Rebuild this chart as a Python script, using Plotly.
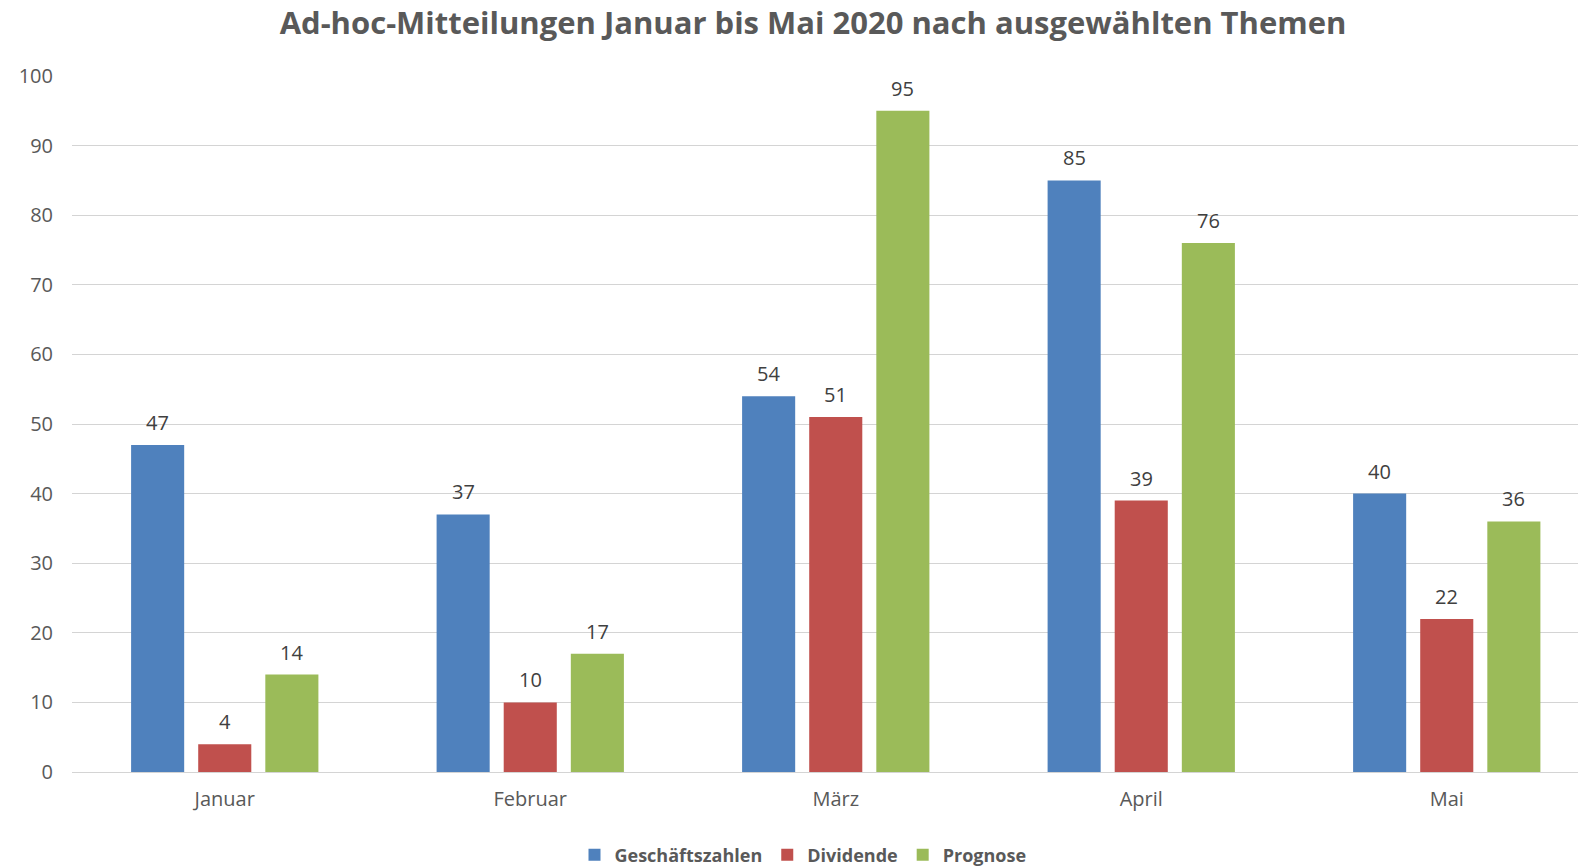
import plotly.graph_objects as go

categories = ["Januar", "Februar", "März", "April", "Mai"]
series_names = ["Geschäftszahlen", "Dividende", "Prognose"]
geschaeftszahlen = [47, 37, 54, 85, 40]
dividende = [4, 10, 51, 39, 22]
prognose = [14, 17, 95, 76, 36]
colors = ["#4F81BD", "#C0504D", "#9BBB59"]
y_ticks = [0, 10, 20, 30, 40, 50, 60, 70, 80, 90, 100]

series_values = [geschaeftszahlen, dividende, prognose]

W, H = 1578, 867
FONT = "Open Sans"
BARGAP = 0.341
BARGROUPGAP = 0.209
n_series = len(series_values)
slot = (1 - BARGAP) / n_series

L, T, B = 72, 76, 95
plot_w = W - L
cat_px = 305.5

x_idx = list(range(len(categories)))

fig = go.Figure()
for name, vals, col in zip(series_names, series_values, colors):
    fig.add_trace(go.Bar(
        x=x_idx, y=vals, name=name,
        marker=dict(color=col, line=dict(width=0)),
        hoverinfo="y",
    ))

annotations = []
for k, vals in enumerate(series_values):
    off = (k - (n_series - 1) / 2) * slot
    for i, v in enumerate(vals):
        annotations.append(dict(
            x=i + off, y=v, xref="x", yref="y",
            text=str(v), showarrow=False,
            yanchor="bottom", xanchor="center", yshift=7,
            font=dict(family=FONT, size=20, color="#404040"),
        ))

fig.update_layout(
    width=W, height=H,
    margin=dict(l=L, r=0, t=T, b=B, pad=0, autoexpand=False),
    paper_bgcolor="white", plot_bgcolor="white",
    barmode="group", bargap=BARGAP, bargroupgap=BARGROUPGAP,
    title=dict(
        text="<b>Ad-hoc-Mitteilungen Januar bis Mai 2020 nach ausgewählten Themen</b>",
        font=dict(family=FONT, size=31, color="#595959"),
        x=813 / W, xref="container", xanchor="center",
        y=1 - 23 / H, yref="container", yanchor="middle",
    ),
    legend=dict(
        orientation="h", xanchor="center", yanchor="middle",
        x=(803 - L) / plot_w, y=((H - B) - 855) / (H - B - T),
        font=dict(family=FONT, size=18, color="#595959", weight="bold"),
        itemwidth=30, traceorder="normal",
    ),
    xaxis=dict(
        tickmode="array", tickvals=x_idx, ticktext=categories,
        range=[-0.5, -0.5 + plot_w / cat_px],
        showgrid=False, zeroline=False, showline=False,
        ticks="", ticklabelstandoff=13,
        tickfont=dict(family=FONT, size=20, color="#595959"),
    ),
    yaxis=dict(
        range=[0, 100], tickmode="array", tickvals=y_ticks,
        showgrid=True, gridcolor="#D4D4D4", gridwidth=1,
        zeroline=True, zerolinecolor="#D4D4D4", zerolinewidth=1,
        showline=False, ticks="", ticklabelstandoff=18,
        tickfont=dict(family=FONT, size=20, color="#595959"),
    ),
    annotations=annotations,
    showlegend=True,
)

fig.write_html(
    "out.html",
    config={"displayModeBar": False},
    post_script="document.body.style.margin='0';",
)
